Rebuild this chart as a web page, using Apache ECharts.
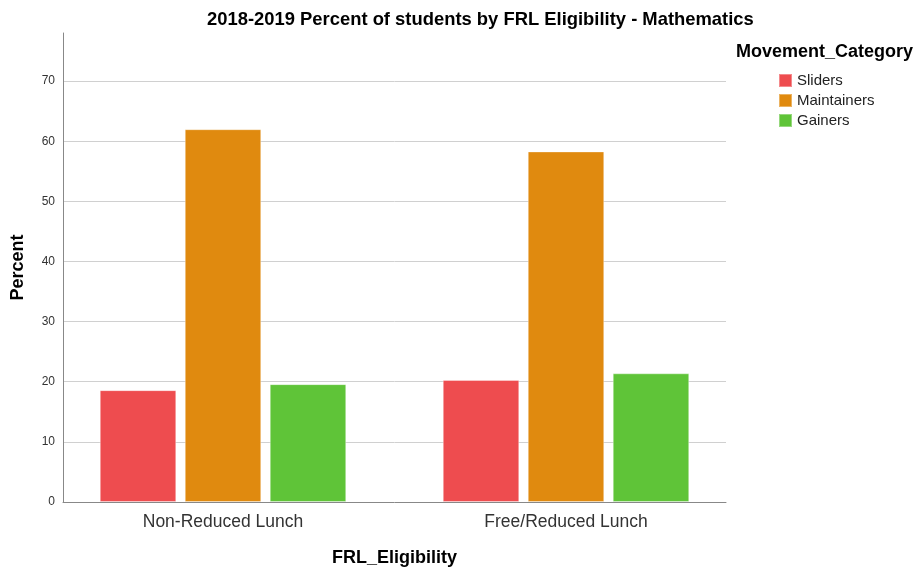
<!DOCTYPE html>
<html>
<head>
<meta charset="utf-8">
<script src="https://cdn.jsdelivr.net/npm/echarts@6/dist/echarts.min.js"></script>
<style>html,body{margin:0;padding:0;background:#fff;}#chart{width:919px;height:567px;}</style>
</head>
<body>
<div id="chart"></div>
<script>
const categories = ["Non-Reduced Lunch", "Free/Reduced Lunch"];
const seriesNames = ["Sliders", "Maintainers", "Gainers"];
const sliders = [18.6, 20.3];
const maintainers = [62.0, 58.3];
const gainers = [19.6, 21.4];
const colors = ["#EE4C4F", "#E08A0F", "#5FC438"];

const FONT = "'Liberation Sans', Arial, sans-serif";
const chart = echarts.init(document.getElementById('chart'));
const values = [sliders, maintainers, gainers];

const option = {
  animation: false,
  textStyle: { fontFamily: FONT },
  title: [
    { text: "2018-2019 Percent of students by FRL Eligibility - Mathematics", left: 207, top: 11, padding: 0,
      textStyle: { fontFamily: FONT, fontSize: 18.4, fontWeight: 'bold', color: '#000' } },
    { text: "Movement_Category", left: 736, top: 43, padding: 0,
      textStyle: { fontFamily: FONT, fontSize: 18, fontWeight: 'bold', color: '#000' } }
  ],
  legend: {
    data: seriesNames, orient: 'vertical', left: 778, top: 73, padding: 0,
    itemWidth: 13, itemHeight: 13, itemGap: 5, icon: 'rect',
    textStyle: { fontFamily: FONT, fontSize: 15, color: '#222' }
  },
  grid: [
    { left: 51.5, right: 181.5, top: 33, bottom: 65, outerBoundsMode: 'none', containLabel: false },
    { left: 63, right: 193, top: 33, bottom: 65, outerBoundsMode: 'none', containLabel: false }
  ],
  xAxis: [
    { type: 'category', gridIndex: 0, data: categories,
      axisLine: { show: false }, axisTick: { show: false },
      axisLabel: { fontFamily: FONT, fontSize: 17.5, color: '#333', margin: 11 } },
    { type: 'value', gridIndex: 1, min: 0, max: 1,
      name: "FRL_Eligibility", nameLocation: 'middle', nameGap: 47,
      nameTextStyle: { fontFamily: FONT, fontSize: 18, fontWeight: 'bold', color: '#000' },
      axisLine: { show: true, lineStyle: { color: '#888', width: 1 } },
      axisTick: { show: false }, axisLabel: { show: false }, splitLine: { show: false } }
  ],
  yAxis: [
    { type: 'value', gridIndex: 0, min: 0, max: 78, interval: 10, show: false, splitLine: { show: false } },
    { type: 'value', gridIndex: 1, min: 0, max: 78, interval: 10,
      name: "Percent", nameLocation: 'middle', nameGap: 36, nameRotate: 90,
      nameTextStyle: { fontFamily: FONT, fontSize: 18, fontWeight: 'bold', color: '#000' },
      axisLine: { show: true, lineStyle: { color: '#888', width: 1 } },
      axisTick: { show: false },
      axisLabel: { fontFamily: FONT, fontSize: 12, color: '#333', margin: 8, showMaxLabel: false },
      splitLine: { show: true, showMaxLine: false, showMinLine: false, lineStyle: { color: '#d0d0d0', width: 1 } } }
  ],
  series: seriesNames.map((n, i) => ({
    name: n, type: 'bar', xAxisIndex: 0, yAxisIndex: 0,
    data: values[i], barWidth: 76.5, barGap: '11.1%',
    itemStyle: { color: colors[i], borderColor: 'rgba(255,255,255,0.35)', borderWidth: 1 }
  }))
};
option.color = colors;
chart.setOption(option);
</script>
</body>
</html>
